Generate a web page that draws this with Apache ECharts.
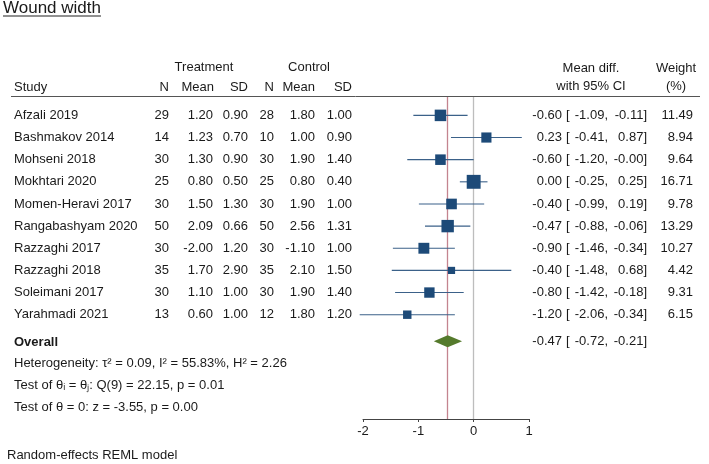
<!DOCTYPE html>
<html>
<head>
<meta charset="utf-8">
<script src="https://cdn.jsdelivr.net/npm/echarts@6/dist/echarts.min.js"></script>
<style>
  html, body { margin: 0; padding: 0; background: #fff; }
  #chart { width: 709px; height: 464px; }
</style>
</head>
<body>
<div id="chart"></div>
<script>
// ---- data ----
var studies = ['Afzali 2019', 'Bashmakov 2014', 'Mohseni 2018', 'Mokhtari 2020', 'Momen-Heravi 2017',
  'Rangabashyam 2020', 'Razzaghi 2017', 'Razzaghi 2018', 'Soleimani 2017', 'Yarahmadi 2021'];
var trtN    = [29, 14, 30, 25, 30, 50, 30, 35, 30, 13];
var trtMean = [1.20, 1.23, 1.30, 0.80, 1.50, 2.09, -2.00, 1.70, 1.10, 0.60];
var trtSD   = [0.90, 0.70, 0.90, 0.50, 1.30, 0.66, 1.20, 2.90, 1.00, 1.00];
var ctlN    = [28, 10, 30, 25, 30, 50, 30, 35, 30, 12];
var ctlMean = [1.80, 1.00, 1.90, 0.80, 1.90, 2.56, -1.10, 2.10, 1.90, 1.80];
var ctlSD   = [1.00, 0.90, 1.40, 0.40, 1.00, 1.31, 1.00, 1.50, 1.40, 1.20];
var meanDiff = [-0.60, 0.23, -0.60, 0.00, -0.40, -0.47, -0.90, -0.40, -0.80, -1.20];
var ciLow    = [-1.09, -0.41, -1.20, -0.25, -0.99, -0.88, -1.46, -1.48, -1.42, -2.06];
var ciHigh   = [-0.11, 0.87, -0.00, 0.25, 0.19, -0.06, -0.34, 0.68, -0.18, -0.34];
var weights  = [11.49, 8.94, 9.64, 16.71, 9.78, 13.29, 10.27, 4.42, 9.31, 6.15];
var overallMD = -0.47, overallLow = -0.72, overallHigh = -0.21;
var xTicks = [-2, -1, 0, 1];
var footNotes = [
  'Heterogeneity: \u03c4\u00b2 = 0.09, I\u00b2 = 55.83%, H\u00b2 = 2.26',
  'Test of \u03b8\u1d62 = \u03b8\u2c7c: Q(9) = 22.15, p = 0.01',
  'Test of \u03b8 = 0: z = -3.55, p = 0.00'
];

var FONT = 'Liberation Sans, Arial, sans-serif';
var TXT = '#1a1a1a';
var OVERALL_ROW = 10.2;

function f2(v) {
  if (Object.is(v, -0)) return '-0.00';
  return v.toFixed(2);
}

function txt(x, y, s, align, extra) {
  var st = { text: s, x: 0, y: 0, fill: TXT, font: '13px ' + FONT, align: align || 'left', verticalAlign: 'middle' };
  if (extra) for (var k in extra) st[k] = extra[k];
  return { type: 'text', x: x, y: y, style: st };
}

// data for the series
var squareData = [], ciData = [], rowData = [];
for (var i = 0; i < studies.length; i++) {
  squareData.push([meanDiff[i], i]);
  ciData.push([ciLow[i], ciHigh[i], i]);
  rowData.push([meanDiff[i], i]);
}

var chart = echarts.init(document.getElementById('chart'));

chart.setOption({
  animation: false,
  grid: { left: 363, width: 166, top: 97, height: 322 },
  xAxis: {
    type: 'value', min: -2, max: 1, interval: 1,
    axisLine: { show: true, onZero: false, lineStyle: { color: '#444', width: 1 } },
    axisTick: { show: true, length: 3, lineStyle: { color: '#444' } },
    axisLabel: { color: TXT, fontSize: 13, fontFamily: FONT, margin: 6,
      customValues: xTicks },
    splitLine: { show: false }
  },
  yAxis: { type: 'value', inverse: true, min: -0.83, max: 13.71, show: false },
  graphic: [
    txt(3, 8, 'Wound width', 'left', { font: '17px ' + FONT }),
    { type: 'line', shape: { x1: 3, y1: 16, x2: 101, y2: 16 }, style: { stroke: '#222', lineWidth: 1.2 } },
    txt(204, 67, 'Treatment', 'center'),
    txt(309, 67, 'Control', 'center'),
    txt(14, 87, 'Study', 'left'),
    txt(169, 87, 'N', 'right'),
    txt(214, 87, 'Mean', 'right'),
    txt(248, 87, 'SD', 'right'),
    txt(274, 87, 'N', 'right'),
    txt(315, 87, 'Mean', 'right'),
    txt(352, 87, 'SD', 'right'),
    txt(591, 68, 'Mean diff.', 'center'),
    txt(591, 86, 'with 95% CI', 'center'),
    txt(676, 68, 'Weight', 'center'),
    txt(676, 86, '(%)', 'center'),
    { type: 'line', shape: { x1: 11, y1: 96.5, x2: 700, y2: 96.5 }, style: { stroke: '#555', lineWidth: 1 } },
    txt(14, 342, 'Overall', 'left', { font: 'bold 13px ' + FONT }),
    txt(14, 363, footNotes[0], 'left'),
    txt(14, 385, footNotes[1], 'left'),
    txt(14, 407, footNotes[2], 'left'),
    txt(7, 455, 'Random-effects REML model', 'left')
  ],
  series: [
    {
      // confidence interval whiskers
      type: 'custom',
      clip: false,
      z: 2,
      data: ciData,
      encode: { x: [0, 1], y: 2 },
      renderItem: function (params, api) {
        var a = api.coord([api.value(0), api.value(2)]);
        var b = api.coord([api.value(1), api.value(2)]);
        return { type: 'line', shape: { x1: a[0], y1: a[1], x2: b[0], y2: b[1] },
          style: { stroke: '#3b6189', lineWidth: 1.1 } };
      }
    },
    {
      type: 'scatter',
      z: 4,
      symbol: 'rect',
      symbolSize: function (v, p) { return 3.4 * Math.sqrt(weights[p.dataIndex]); },
      itemStyle: { color: '#1d4a78', opacity: 1 },
      data: squareData,
      markLine: {
        silent: true, symbol: 'none', z: 1,
        label: { show: false },
        data: [
          { xAxis: overallMD, lineStyle: { color: '#c4848f', width: 1.3, type: 'solid' } },
          { xAxis: 0, lineStyle: { color: '#bdbdbd', width: 1.3, type: 'solid' } }
        ]
      }
    },
    {
      // overall diamond
      type: 'custom',
      clip: false,
      z: 3,
      data: [[overallLow, overallMD, overallHigh, OVERALL_ROW]],
      encode: { x: [0, 1, 2], y: 3 },
      renderItem: function (params, api) {
        var r = api.value(3);
        var l = api.coord([api.value(0), r]);
        var m = api.coord([api.value(1), r]);
        var h = api.coord([api.value(2), r]);
        return { type: 'polygon',
          shape: { points: [[l[0], l[1]], [m[0], m[1] - 6], [h[0], h[1]], [m[0], m[1] + 6]] },
          style: { fill: '#557a2c' } };
      }
    },
    {
      // table text for each study row plus overall result
      type: 'custom',
      clip: false,
      z: 5,
      data: rowData.concat([[overallMD, OVERALL_ROW]]),
      encode: { x: 0, y: 1 },
      renderItem: function (params, api) {
        var idx = params.dataIndex;
        var y = api.coord([0, api.value(1)])[1];
        var kids = [];
        if (idx < studies.length) {
          kids.push(txt(14, y, studies[idx], 'left'));
          kids.push(txt(169, y, String(trtN[idx]), 'right'));
          kids.push(txt(213, y, f2(trtMean[idx]), 'right'));
          kids.push(txt(248, y, f2(trtSD[idx]), 'right'));
          kids.push(txt(274, y, String(ctlN[idx]), 'right'));
          kids.push(txt(315, y, f2(ctlMean[idx]), 'right'));
          kids.push(txt(352, y, f2(ctlSD[idx]), 'right'));
          kids.push(txt(562, y, f2(meanDiff[idx]), 'right'));
          kids.push(txt(566, y, '[', 'left'));
          kids.push(txt(608, y, f2(ciLow[idx]) + ',', 'right'));
          kids.push(txt(647, y, f2(ciHigh[idx]) + ']', 'right'));
          kids.push(txt(693, y, f2(weights[idx]), 'right'));
        } else {
          kids.push(txt(562, y, f2(overallMD), 'right'));
          kids.push(txt(566, y, '[', 'left'));
          kids.push(txt(608, y, f2(overallLow) + ',', 'right'));
          kids.push(txt(647, y, f2(overallHigh) + ']', 'right'));
        }
        return { type: 'group', children: kids };
      }
    }
  ]
});
</script>
</body>
</html>
